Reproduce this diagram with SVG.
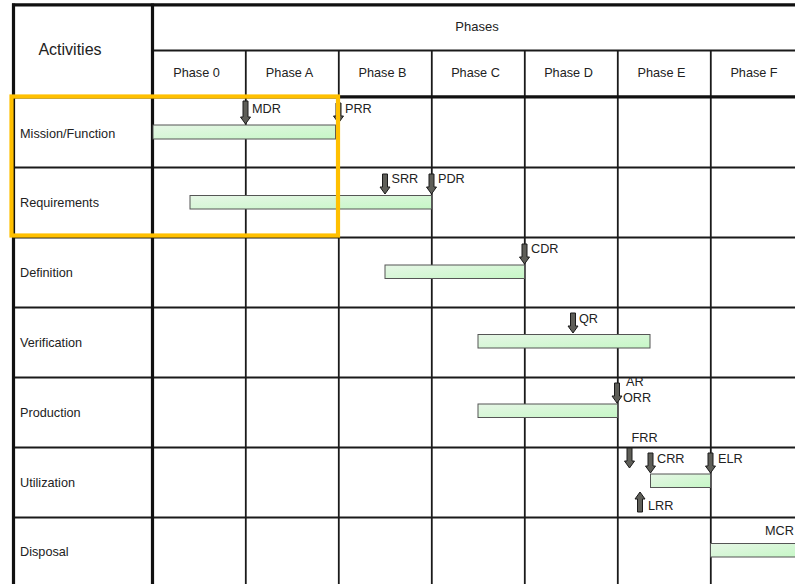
<svg xmlns="http://www.w3.org/2000/svg" width="795" height="584" viewBox="0 0 795 584">
<style>
text{font-family:"Liberation Sans",Arial,sans-serif;fill:#222;font-size:12.7px}
.c{text-anchor:middle}
.thick{stroke:#111;stroke-width:3.2;fill:none}
.thin{stroke:#1a1a1a;stroke-width:1.8;fill:none}
.bar{fill:url(#g);stroke:#555;stroke-width:1}
.arr{fill:#5e5e58;stroke:#1a1a1a;stroke-width:1}
</style>
<defs>
<linearGradient id="g" x1="0" y1="0" x2="1" y2="1">
<stop offset="0" stop-color="#e6f6e6"/>
<stop offset="1" stop-color="#c6f7c6"/>
</linearGradient>
<path id="a" d="M-2.5,-20H2.5V-7H5L0,0L-5,-7H-2.5Z"/>
<path id="aL" d="M-2.5,-23H2.5V-7H5L0,0L-5,-7H-2.5Z"/>
</defs>
<rect width="795" height="584" fill="#fff"/>
<g id="grid">
<line class="thin" x1="152.5" y1="50.5" x2="795" y2="50.5"/>
<g class="thin">
<line x1="13" y1="167.5" x2="795" y2="167.5"/>
<line x1="13" y1="237.5" x2="795" y2="237.5"/>
<line x1="13" y1="307.5" x2="795" y2="307.5"/>
<line x1="13" y1="377.5" x2="795" y2="377.5"/>
<line x1="13" y1="447.5" x2="795" y2="447.5"/>
<line x1="13" y1="517.5" x2="795" y2="517.5"/>
<line x1="245.8" y1="50.5" x2="245.8" y2="584"/>
<line x1="338.8" y1="50.5" x2="338.8" y2="584"/>
<line x1="431.8" y1="50.5" x2="431.8" y2="584"/>
<line x1="524.8" y1="50.5" x2="524.8" y2="584"/>
<line x1="617.8" y1="50.5" x2="617.8" y2="584"/>
<line x1="710.8" y1="50.5" x2="710.8" y2="584"/>
</g>
<g class="thick">
<line x1="12" y1="4.8" x2="795" y2="4.8"/>
<line x1="13.5" y1="3.5" x2="13.5" y2="584"/>
<line x1="152.5" y1="3.5" x2="152.5" y2="584"/>
<line x1="12" y1="96.8" x2="795" y2="96.8"/>
</g>
</g>
<g id="header">
<text x="70" y="55" class="c" style="font-size:16px">Activities</text>
<text x="477" y="30.5" class="c" style="font-size:13px">Phases</text>
<text x="196.5" y="77" class="c">Phase 0</text>
<text x="289.5" y="77" class="c">Phase A</text>
<text x="382.5" y="77" class="c">Phase B</text>
<text x="475.5" y="77" class="c">Phase C</text>
<text x="568.5" y="77" class="c">Phase D</text>
<text x="661.5" y="77" class="c">Phase E</text>
<text x="754" y="77" class="c">Phase F</text>
</g>
<g id="row-mission"><text x="20" y="137.5">Mission/Function</text><rect class="bar" x="153" y="125" width="182.5" height="14"/></g>
<g id="row-requirements"><text x="20" y="207">Requirements</text><rect class="bar" x="190" y="195.5" width="241.5" height="13.5"/></g>
<g id="row-definition"><text x="20" y="277">Definition</text><rect class="bar" x="385" y="265" width="139.5" height="13.5"/></g>
<g id="row-verification"><text x="20" y="347">Verification</text><rect class="bar" x="478" y="334.5" width="172" height="13.5"/></g>
<g id="row-production"><text x="20" y="417">Production</text><rect class="bar" x="478" y="404" width="139.5" height="13.5"/></g>
<g id="row-utilization"><text x="20" y="486.5">Utilization</text><rect class="bar" x="650.5" y="474" width="60" height="13.5"/></g>
<g id="row-disposal"><text x="20" y="556">Disposal</text><rect class="bar" x="710.5" y="543.5" width="90" height="13.5"/></g>
<g id="milestones">
<use href="#aL" class="arr" transform="translate(245.5,124)"/><text x="252" y="113">MDR</text>
<use href="#a" class="arr" transform="translate(338.5,123)"/><text x="345" y="113">PRR</text>
<use href="#a" class="arr" transform="translate(385,194)"/><text x="391.5" y="183">SRR</text>
<use href="#a" class="arr" transform="translate(431.5,194)"/><text x="438" y="183">PDR</text>
<use href="#a" class="arr" transform="translate(524.5,264)"/><text x="531" y="252.5">CDR</text>
<use href="#a" class="arr" transform="translate(573,333)"/><text x="579" y="323">QR</text>
<use href="#a" class="arr" transform="translate(617,403)"/><text x="626" y="386">AR</text><text x="623" y="401.5">ORR</text>
<text x="631.5" y="442">FRR</text><use href="#a" class="arr" transform="translate(629.5,468)"/>
<use href="#a" class="arr" transform="translate(650.5,473)"/><text x="657" y="463">CRR</text>
<use href="#a" class="arr" transform="translate(710.5,473)"/><text x="718" y="463">ELR</text>
<use href="#a" class="arr" transform="translate(640,492) rotate(180)"/><text x="648" y="510">LRR</text>
<text x="765" y="534.5">MCR</text>
</g>
<rect id="highlight" x="11.5" y="96.5" width="326.5" height="139" fill="none" stroke="#FFC000" stroke-width="4.2"/>
</svg>
